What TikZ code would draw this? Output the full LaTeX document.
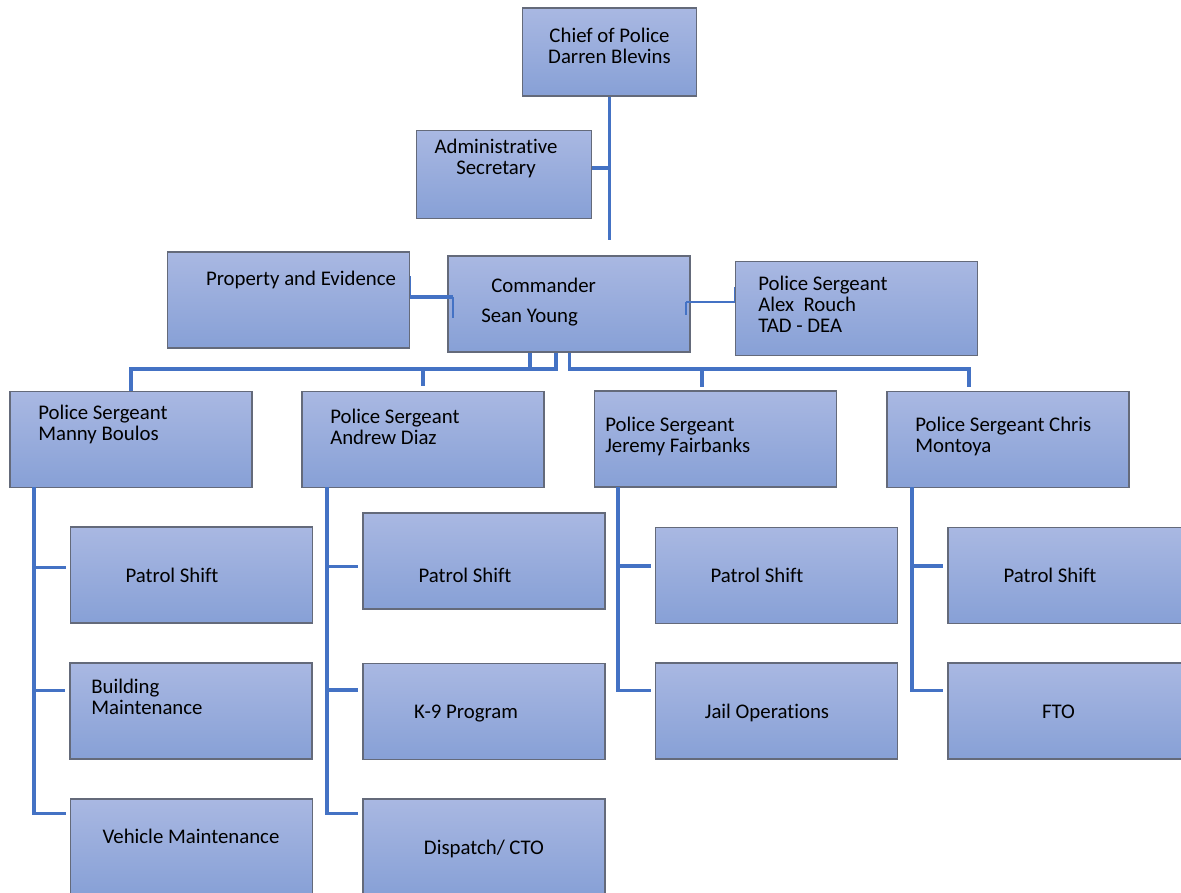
\documentclass[tikz,border=0pt]{standalone}
\usepackage{fontspec}
\setmainfont{Carlito}[Ligatures=NoCommon]
\definecolor{boxtop}{RGB}{169,184,226}
\definecolor{boxbot}{RGB}{135,160,214}
\definecolor{boxline}{RGB}{100,106,122}
\definecolor{linkblue}{RGB}{68,114,196}

\begin{document}
\begin{tikzpicture}[x=0.75pt,y=-0.75pt,
    unit/.style={draw=boxline,line width=0.9pt,top color=boxtop,bottom color=boxbot,
                 minimum width=181.5pt,minimum height=72pt,inner sep=0pt},
    small unit/.style={unit,minimum width=131pt,minimum height=66pt},
    lbl/.style={inner sep=0pt,font=\fontsize{15.6pt}{15.75pt}\selectfont},
    link/.style={draw=linkblue,line width=2.4pt},
    thin link/.style={draw=linkblue,line width=0.8pt}]
\useasboundingbox (0,0) rectangle (1181,892);
% top of the chart
\node[small unit] (chief) at (609.5,52) {};
\node[small unit] (admin) at (504,174.5) {};
\node[unit] (prop) at (288.5,300) {};
\node[unit] (cmd) at (569,304) {};
\node[unit,minimum height=71pt] (rouch) at (856.5,308.5) {};
% sergeants
\node[unit] (boulos) at (131,439.5) {};
\node[unit] (diaz) at (423,439.5) {};
\node[unit] (fair) at (715.5,439) {};
\node[unit] (mont) at (1008,439.5) {};
% units under the sergeants
\node[unit] (ps1) at (191.5,575) {};
\node[unit] (bm) at (191,711) {};
\node[unit] (vm) at (191.5,847) {};
\node[unit] (ps2) at (484,561) {};
\node[unit] (k9) at (484,711.5) {};
\node[unit] (disp) at (484,847) {};
\node[unit] (ps3) at (776.5,575.5) {};
\node[unit] (jail) at (776.5,711) {};
\node[unit] (ps4) at (1069,575.5) {};
\node[unit] (fto) at (1069,711) {};

% texts
\node[lbl,align=center,anchor=north] (chief-t) at (609.5,28) {Chief of Police\\Darren Blevins};
\node[lbl,align=center,anchor=north] (admin-t) at (496,139) {Administrative\\Secretary};
\node[lbl,anchor=base] (prop-t) at (301,285) {Property and Evidence};
\node[lbl,align=left,anchor=north west] (cmd-t) at (481,278) {\hspace*{7.5pt}Commander\\[6.75pt]Sean Young};
\node[lbl,align=left,anchor=north west] (rouch-t) at (758,276) {Police Sergeant\\Alex\ \ Rouch\\TAD - DEA};
\node[lbl,align=left,anchor=north west] (boulos-t) at (38,405) {Police Sergeant\\Manny Boulos};
\node[lbl,align=left,anchor=north west] (diaz-t) at (330,409) {Police Sergeant\\Andrew Diaz};
\node[lbl,align=left,anchor=north west] (fair-t) at (605,417) {Police Sergeant\\Jeremy Fairbanks};
\node[lbl,align=left,anchor=north west] (mont-t) at (915,417) {Police Sergeant Chris\\Montoya};
\node[lbl,anchor=base] (ps1-t) at (172,582) {Patrol Shift};
\node[lbl,align=left,anchor=north west] (bm-t) at (91,679) {Building\\Maintenance};
\node[lbl,anchor=base] (vm-t) at (191,843) {Vehicle Maintenance};
\node[lbl,anchor=base] (ps2-t) at (465,582) {Patrol Shift};
\node[lbl,anchor=base] (k9-t) at (466,718) {K-9 Program};
\node[lbl,anchor=base] (disp-t) at (484,854) {Dispatch/ CTO};
\node[lbl,anchor=base] (ps3-t) at (757,582) {Patrol Shift};
\node[lbl,anchor=base] (jail-t) at (767,718) {Jail Operations};
\node[lbl,anchor=base] (ps4-t) at (1050,582) {Patrol Shift};
\node[lbl,anchor=base] (fto-t) at (1058.5,718) {FTO};

% chief, secretary and commander
\coordinate (trunk) at (609.5,240);
\draw[link] (chief.south) -- (trunk);
\coordinate (admin-j) at (609.5,168);
\draw[link] (admin-j) -- (admin-j -| admin.east);
\coordinate (prop-j) at (453,297);
\draw[link] (prop-j -| prop.east) -- (prop-j);
\draw[thin link] (prop-j -| prop.east) -- ++(0,-21);
\draw[thin link] (prop-j) -- ++(0,21);
\coordinate (rouch-j) at (686,302);
\draw[thin link] (rouch-j) -- (rouch-j -| rouch.west) -- ++(0,-15);
\draw[thin link] (rouch-j) -- ++(0,13);

% bus to the sergeants
\coordinate (bus-l) at (556,369);
\coordinate (bus-r) at (569.5,369);
\coordinate (fair-j) at (702,387);
\coordinate (mont-j) at (969,387);
\draw[link] (bus-l |- cmd.south) -- (bus-l) -| (boulos.north);
\draw[link] (cmd.south -| 530,0) -- (bus-l -| 530,0);
\draw[link] (bus-l -| diaz.north) -- ([yshift=3.75pt]diaz.north);
\draw[link] (bus-r |- cmd.south) -- (bus-r) -| (mont-j);
\draw[link] (bus-r -| fair-j) -- (fair-j);

% sergeants to their units
\coordinate (boulos-sp) at (34,487);
\coordinate (diaz-sp) at (327,487);
\coordinate (fair-sp) at (618,487);
\coordinate (mont-sp) at (912,487);
\draw[link] (boulos-sp) |- ([shift={(-4,41)}]ps1.north west)
            (boulos-sp) |- ([shift={(-4,28)}]bm.north west)
            (boulos-sp) |- ([shift={(-4,15)}]vm.north west);
\draw[link] (diaz-sp) |- ([shift={(-4,54)}]ps2.north west)
            (diaz-sp) |- ([shift={(-4,27)}]k9.north west)
            (diaz-sp) |- ([shift={(-4,15)}]disp.north west);
\draw[link] (fair-sp) |- ([shift={(-4,39)}]ps3.north west)
            (fair-sp) |- ([shift={(-4,28)}]jail.north west);
\draw[link] (mont-sp) |- ([shift={(-4,39)}]ps4.north west)
            (mont-sp) |- ([shift={(-4,28)}]fto.north west);
\end{tikzpicture}
\end{document}
